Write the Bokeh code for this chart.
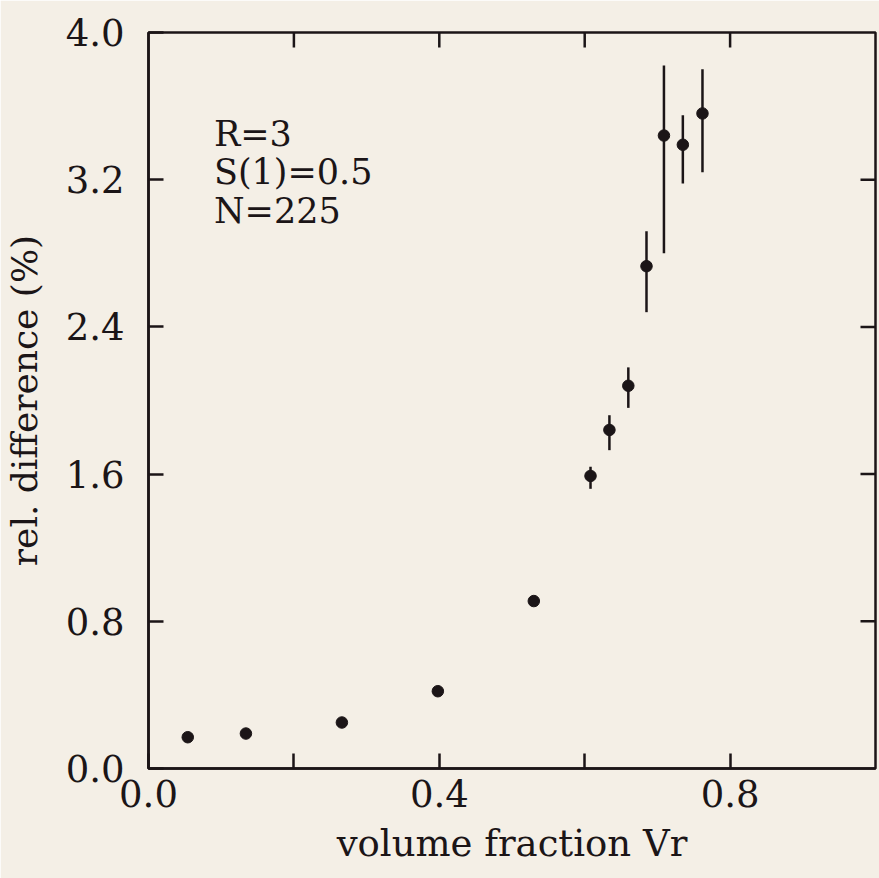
import math

from bokeh.plotting import figure
from bokeh.models import ColumnDataSource, FixedTicker, Range1d
from bokeh.core.properties import value
from bokeh.embed import file_html
from bokeh.resources import INLINE

# Measured relative difference versus volume fraction
vr = [0.054, 0.134, 0.266, 0.398, 0.530, 0.608, 0.634, 0.660, 0.685, 0.709, 0.735, 0.762]
rel_diff = [0.17, 0.19, 0.25, 0.42, 0.91, 1.59, 1.84, 2.08, 2.73, 3.44, 3.39, 3.56]
nan = float("nan")
err_lo = [nan, nan, nan, nan, nan, 1.52, 1.73, 1.96, 2.48, 2.80, 3.18, 3.24]
err_hi = [nan, nan, nan, nan, nan, 1.64, 1.92, 2.18, 2.92, 3.82, 3.55, 3.80]

x_ticks = [0.0, 0.4, 0.8]
x_minor = [0.2, 0.6]
y_ticks = [0.0, 0.8, 1.6, 2.4, 3.2, 4.0]
notes = ["R=3", "S(1)=0.5", "N=225"]

X_MIN, X_MAX = 0.0, 1.0
Y_MIN, Y_MAX = 0.0, 4.0

INK = "#1b1517"
PAPER = "#f4efe6"
FONT = "DejaVu Serif"

src = ColumnDataSource(dict(x=vr, y=rel_diff, lo=err_lo, hi=err_hi))

p = figure(width=879, height=878, output_backend="svg", toolbar_location=None,
           x_range=Range1d(X_MIN, X_MAX), y_range=Range1d(Y_MIN, Y_MAX),
           min_border_left=147, min_border_right=4, min_border_top=32,
           min_border_bottom=110)
p.background_fill_color = PAPER
p.border_fill_color = PAPER
p.grid.visible = False
p.outline_line_color = INK
p.outline_line_width = 2.5

def style_axis(ax):
    ax.axis_line_color = INK
    ax.axis_line_width = 2.5
    ax.major_tick_line_color = INK
    ax.major_tick_line_width = 2.5
    ax.major_tick_in = 15
    ax.major_tick_out = 0
    ax.minor_tick_line_color = INK
    ax.minor_tick_line_width = 2.5
    ax.minor_tick_in = 15
    ax.minor_tick_out = 0
    ax.major_label_text_font = FONT
    ax.major_label_text_font_size = "37px"
    ax.major_label_text_color = INK
    ax.axis_label_text_font = FONT
    ax.axis_label_text_font_size = "37px"
    ax.axis_label_text_font_style = "normal"
    ax.axis_label_text_color = INK

xb = p.xaxis[0]
xb.ticker = FixedTicker(ticks=x_ticks, minor_ticks=x_minor)
xb.major_label_overrides = {t: f"{t:.1f}" for t in x_ticks}
xb.axis_label = "volume fraction Vr"
style_axis(xb)
xb.major_label_standoff = 11
xb.axis_label_standoff = 12

yl = p.yaxis[0]
yl.ticker = FixedTicker(ticks=y_ticks, minor_ticks=[])
yl.major_label_overrides = {t: f"{t:.1f}" for t in y_ticks}
yl.axis_label = "rel. difference (%)"
style_axis(yl)
yl.axis_label_text_font_size = "36px"
yl.major_label_standoff = 24
yl.axis_label_standoff = 18

# inward tick marks along the top and right edges (outer half clipped by the frame)
top_ticks = [t for t in sorted(x_ticks + x_minor) if X_MIN < t < X_MAX]
right_ticks = [t for t in y_ticks if Y_MIN < t < Y_MAX]
p.scatter(x=top_ticks, y=[Y_MAX] * len(top_ticks), marker="dash", size=30,
          angle=math.pi / 2, line_color=INK, line_width=2.5)
p.scatter(x=[X_MAX] * len(right_ticks), y=right_ticks, marker="dash", size=30,
          line_color=INK, line_width=2.5)

# error bars and data points
p.segment(x0="x", y0="lo", x1="x", y1="hi", source=src, line_color=INK, line_width=2.5)
p.scatter(x="x", y="y", source=src, size=11.5, fill_color=INK, line_color=INK)

# parameter notes in the upper-left corner
note_x = 0.09
note_y0 = 3.45
note_step = 0.21
p.text(x=[note_x] * len(notes), y=[note_y0 - i * note_step for i in range(len(notes))],
       text=notes, text_font=value(FONT), text_font_size="35px", text_color=INK,
       text_baseline="alphabetic", text_align="left")

open("out.html", "w").write(file_html(p, INLINE))
